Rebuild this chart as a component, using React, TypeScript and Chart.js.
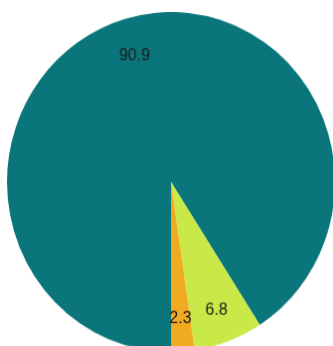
import React, { useEffect, useRef } from "react";
import { Chart, registerables } from "chart.js";

Chart.register(...registerables);

const labels = ["A", "B", "C"];
const values = [90.9, 6.8, 2.3];
const colors = ["#0a767b", "#c8e947", "#f1ab20"];

const labelPlugin = {
  id: "sliceLabels",
  afterDatasetsDraw(chart: any) {
    const ctx = chart.ctx;
    const meta = chart.getDatasetMeta(0);
    ctx.save();
    ctx.font = "16px 'Liberation Sans', Arial, sans-serif";
    ctx.fillStyle = "#1c1c1c";
    ctx.textAlign = "center";
    ctx.textBaseline = "middle";
    meta.data.forEach((arc: any, i: number) => {
      const { x, y, startAngle, endAngle, outerRadius } = arc.getProps(
        ["x", "y", "startAngle", "endAngle", "outerRadius"],
        true
      );
      const mid = (startAngle + endAngle) / 2;
      const r = outerRadius * 0.79;
      ctx.fillText(String(values[i]), x + Math.cos(mid) * r, y + Math.sin(mid) * r + 3);
    });
    ctx.restore();
  },
};

export default function App() {
  const ref = useRef<HTMLCanvasElement>(null);
  useEffect(() => {
    if (!ref.current) return;
    const chart = new Chart(ref.current, {
      type: "pie",
      data: {
        labels,
        datasets: [
          {
            data: values,
            backgroundColor: colors,
            borderWidth: 0,
          },
        ],
      },
      options: {
        responsive: false,
        maintainAspectRatio: false,
        animation: false,
        rotation: 180,
        layout: { padding: 0 },
        plugins: {
          legend: { display: false },
          tooltip: { enabled: false },
        },
      },
      plugins: [labelPlugin],
    });
    return () => chart.destroy();
  }, []);
  return (
    <div
      style={{
        position: "fixed",
        left: 0,
        top: 0,
        width: 333,
        height: 346,
        overflow: "hidden",
        background: "#fff",
      }}
    >
      <div
        style={{
          position: "absolute",
          left: 6.5,
          top: 12,
          width: 330,
          height: 330,
          transformOrigin: "0 0",
          transform: "scale(0.994, 1.03)",
        }}
      >
        <canvas
          ref={ref}
          width={330}
          height={330}
          style={{ display: "block", width: 330, height: 330 }}
        />
      </div>
    </div>
  );
}
